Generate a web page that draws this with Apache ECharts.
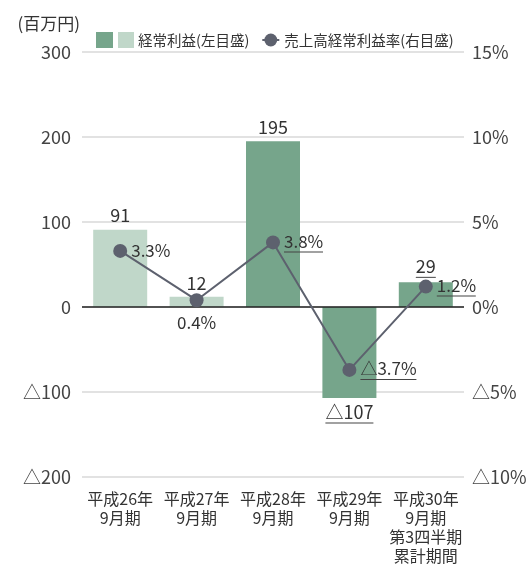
<!DOCTYPE html>
<html><head><meta charset="utf-8">
<script src="https://cdn.jsdelivr.net/npm/echarts@6/dist/echarts.min.js"></script>
<style>html,body{margin:0;padding:0;background:#fff}#c{width:531px;height:565px}</style>
</head><body><div id="c"></div>
<script>
const categories = ['平成26年\n9月期','平成27年\n9月期','平成28年\n9月期','平成29年\n9月期','平成30年\n9月期\n第3四半期\n累計期間'];
const profit = [91, 12, 195, -107, 29];
const margin = [3.3, 0.4, 3.8, -3.7, 1.2];
const leftTicks = {min: -200, max: 300, interval: 100};
const rightTicks = {min: -10, max: 15, interval: 5};

// styling
const lightIdx = [0, 1];
const profitUnderline = [false, false, false, true, true];
const marginUnderline = [false, false, true, true, true];
const marginPos = ['right', 'bottom', 'right', 'right', 'right'];
const FONT = '"Noto Sans CJK JP", "Noto Sans", sans-serif';
const DARK = '#76a58b', LIGHT = '#c0d7c9', LINE = '#5d616e', TXT = '#333';

const tri = v => (v < 0 ? '△' + Math.abs(v) : String(v));
const mctx = document.createElement('canvas').getContext('2d');
const textW = (s, size) => { mctx.font = size + 'px ' + FONT; return Math.round(mctx.measureText(s).width); };
const labelOpt = (s, size, u) => ({
  formatter: () => u ? '{a|' + s + '}\n{u|}' : '{a|' + s + '}',
  rich: {
    a: {fontSize: size, color: TXT, fontFamily: FONT, lineHeight: size + 2},
    u: {width: textW(s, size), height: 1, backgroundColor: '#444', lineHeight: 2}
  }
});

const chart = echarts.init(document.getElementById('c'));
chart.setOption({
  animation: false,
  textStyle: {fontFamily: FONT},
  grid: {left: 82, right: 67, top: 52, bottom: 87, containLabel: false},
  legend: {
    top: 27, left: 91, itemWidth: 17, itemHeight: 16, itemGap: 12,
    textStyle: {fontSize: 14.5, color: TXT, fontFamily: FONT,
      rich: {sq: {width: 16, height: 16, backgroundColor: LIGHT}, t: {fontSize: 14.5, color: TXT, padding: [0, 0, 0, 4]}}},
    data: [
      {name: '経常利益(左目盛)', icon: 'rect'},
      {name: '売上高経常利益率(右目盛)'}
    ],
    formatter: n => n === '経常利益(左目盛)' ? '{sq|}{t|' + n + '}' : n
  },
  xAxis: {
    type: 'category', data: categories,
    axisLine: {show: false, onZero: false}, axisTick: {show: false},
    axisLabel: {fontSize: 16, lineHeight: 19, color: TXT, margin: 12, interval: 0}
  },
  yAxis: [
    {type: 'value', min: leftTicks.min, max: leftTicks.max, interval: leftTicks.interval,
      name: '(百万円)', nameLocation: 'end', nameGap: 20,
      nameTextStyle: {fontSize: 17, color: TXT, align: 'right', padding: [0, 2, 0, 0]},
      axisLine: {show: false}, axisTick: {show: false},
      axisLabel: {fontSize: 18, color: '#444', margin: 11, formatter: v => tri(v)},
      splitLine: {lineStyle: {color: '#d9d9d9', width: 1.5}}},
    {type: 'value', min: rightTicks.min, max: rightTicks.max, interval: rightTicks.interval,
      axisLine: {show: false}, axisTick: {show: false},
      axisLabel: {fontSize: 18, color: '#444', margin: 8, formatter: v => tri(v) + '%'},
      splitLine: {show: false}}
  ],
  series: [
    {
      name: '経常利益(左目盛)', type: 'bar', yAxisIndex: 0, barWidth: 54,
      itemStyle: {color: DARK},
      data: profit.map((v, i) => ({
        value: v,
        itemStyle: {color: lightIdx.includes(i) ? LIGHT : DARK},
        label: Object.assign({show: true, position: v < 0 ? 'bottom' : 'top', distance: 4},
          labelOpt(tri(v), 18, profitUnderline[i]))
      })),
      markLine: {silent: true, symbol: 'none', label: {show: false},
        lineStyle: {color: '#222', width: 1.5, type: 'solid'}, data: [{yAxis: 0}]},
      z: 2
    },
    {
      name: '売上高経常利益率(右目盛)', type: 'line', yAxisIndex: 1,
      symbol: 'circle', symbolSize: 14,
      lineStyle: {color: LINE, width: 2}, itemStyle: {color: LINE},
      data: margin.map((v, i) => ({
        value: v,
        label: Object.assign({show: true, position: marginPos[i], distance: i === 1 ? 6 : 4},
          labelOpt(tri(v) + '%', 17, marginUnderline[i]))
      })),
      z: 5
    }
  ]
});
</script></body></html>
